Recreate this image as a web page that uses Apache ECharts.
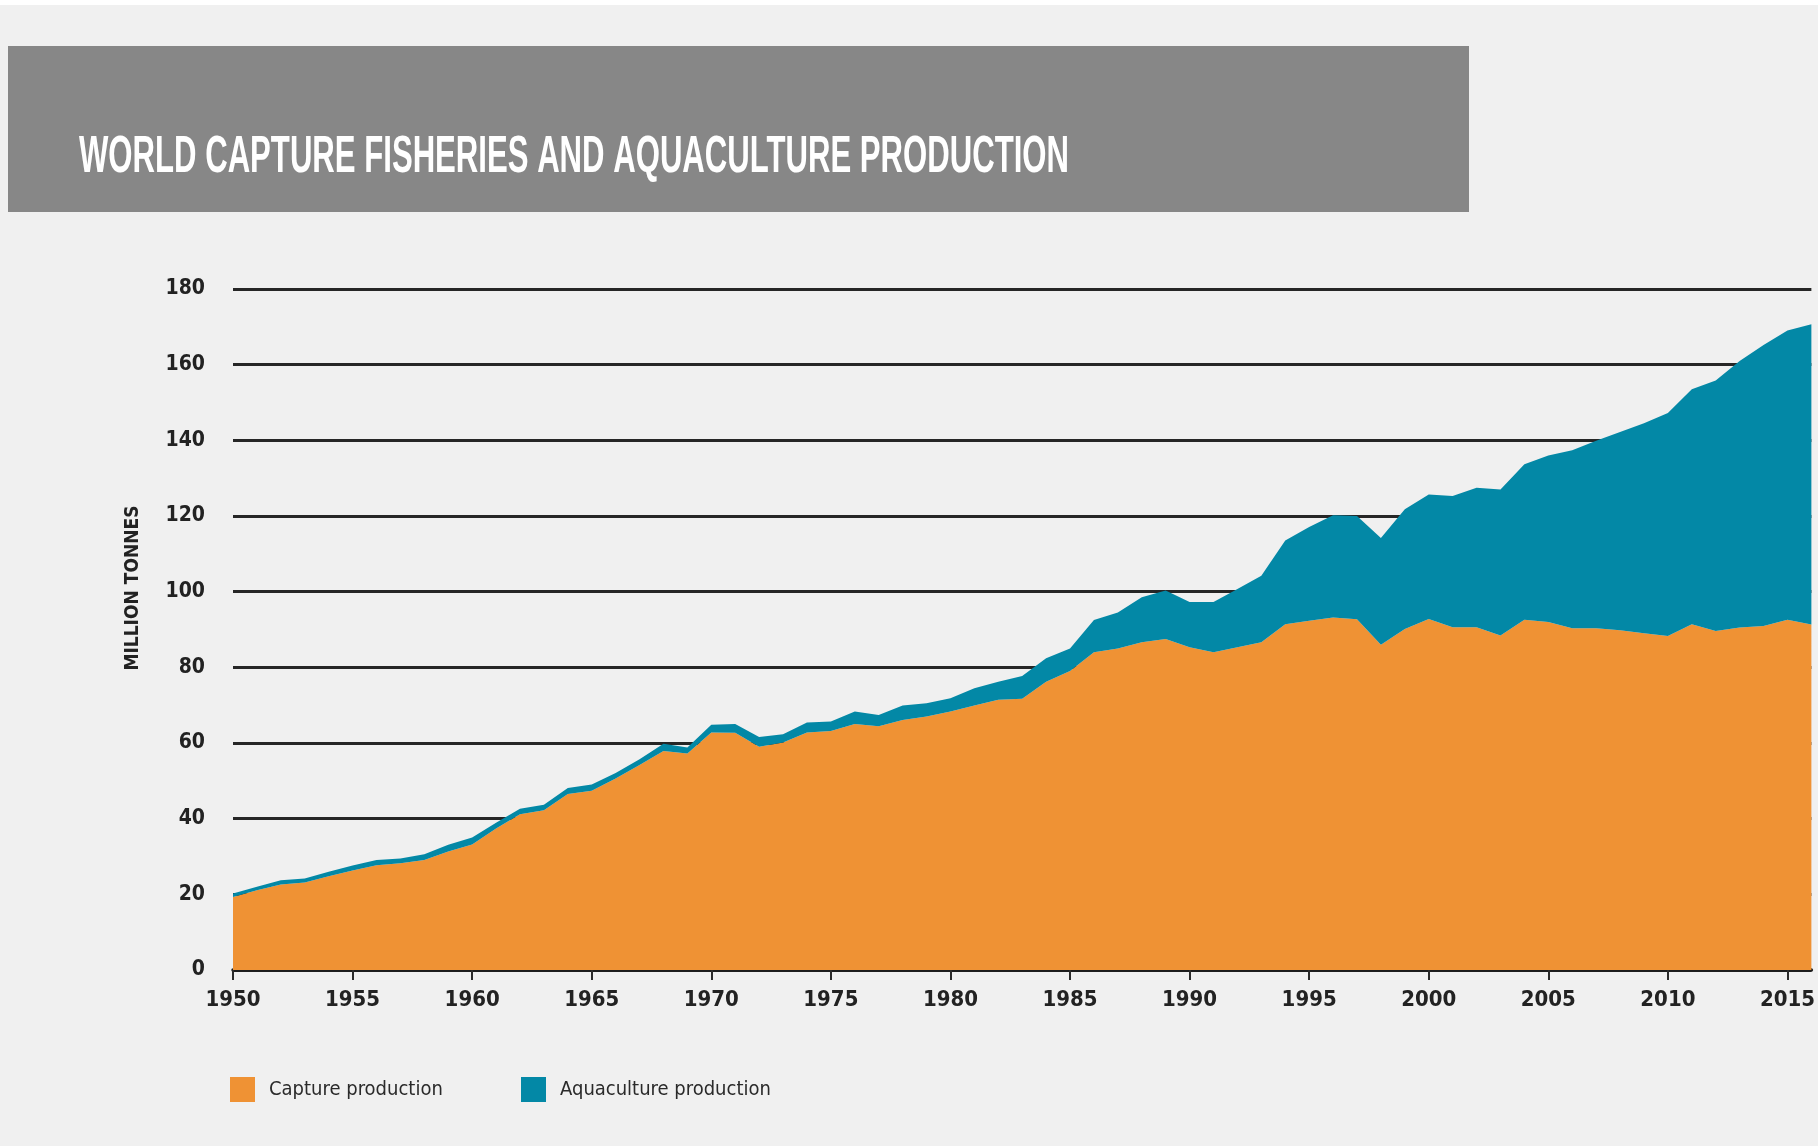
<!DOCTYPE html>
<html>
<head>
<meta charset="utf-8">
<script src="https://cdn.jsdelivr.net/npm/echarts@6/dist/echarts.min.js"></script>
<style>
  html, body { margin: 0; padding: 0; background: #f0f0f0; }
  #chart { width: 1818px; height: 1146px; }
</style>
</head>
<body>
<div id="chart"></div>
<script>
// World production, million tonnes
const years = [
  '1950','1951','1952','1953','1954','1955','1956','1957','1958','1959',
  '1960','1961','1962','1963','1964','1965','1966','1967','1968','1969',
  '1970','1971','1972','1973','1974','1975','1976','1977','1978','1979',
  '1980','1981','1982','1983','1984','1985','1986','1987','1988','1989',
  '1990','1991','1992','1993','1994','1995','1996','1997','1998','1999',
  '2000','2001','2002','2003','2004','2005','2006','2007','2008','2009',
  '2010','2011','2012','2013','2014','2015','2016'
];
const capture = [
  19.3, 21.1, 22.6, 23.1, 24.8, 26.3, 27.7, 28.2, 29.1, 31.3,
  33.2, 37.4, 41.2, 42.2, 46.5, 47.4, 50.6, 54.2, 57.9, 57.2,
  62.8, 62.7, 59.0, 60.1, 62.8, 63.2, 65.0, 64.4, 66.1, 67.0,
  68.3, 69.9, 71.4, 71.7, 76.2, 79.0, 84.0, 85.0, 86.6, 87.5,
  85.3, 84.0, 85.3, 86.6, 91.4, 92.3, 93.2, 92.7, 86.0, 90.1,
  92.8, 90.6, 90.6, 88.4, 92.6, 92.0, 90.3, 90.3, 89.8, 89.0,
  88.3, 91.4, 89.6, 90.5, 90.9, 92.6, 91.3
];
const aquaculture = [
  0.9, 0.9, 1.1, 1.1, 1.2, 1.3, 1.4, 1.3, 1.5, 1.8,
  1.8, 1.5, 1.4, 1.5, 1.6, 1.6, 1.5, 1.5, 1.9, 1.6,
  2.0, 2.3, 2.6, 2.2, 2.6, 2.5, 3.3, 3.0, 3.8, 3.5,
  3.5, 4.6, 4.8, 6.0, 6.2, 6.0, 8.5, 9.5, 11.9, 12.8,
  12.0, 13.3, 15.4, 17.6, 22.1, 24.8, 27.0, 27.3, 28.2, 31.7,
  32.9, 34.7, 36.9, 38.6, 41.1, 44.0, 47.1, 49.6, 52.4, 55.5,
  58.9, 62.1, 66.2, 70.5, 74.3, 76.4, 79.4
];
const yTicks = [0, 20, 40, 60, 80, 100, 120, 140, 160, 180];
const seriesNames = ['Capture production', 'Aquaculture production'];
const titleText = 'WORLD CAPTURE FISHERIES AND AQUACULTURE PRODUCTION';
const yAxisTitle = 'MILLION TONNES';

const ORANGE = '#ef9234';
const TEAL = '#0388a6';
const INK = '#222222';
const NARROW = "'Liberation Sans Narrow', 'DejaVu Sans Condensed', 'Liberation Sans', sans-serif";

// squeeze the banner heading into its fixed width
const titleFont = 'bold 52px "Liberation Sans", sans-serif';
const ctx = document.createElement('canvas').getContext('2d');
ctx.font = titleFont;
const titleScale = 990 / ctx.measureText(titleText).width;

const chart = echarts.init(document.getElementById('chart'), null, { renderer: 'canvas' });

const legendText = { fontFamily: NARROW, fontSize: 20, color: '#2a2a2a', padding: [0, 0, 0, 9] };

chart.setOption({
  backgroundColor: '#f0f0f0',
  animation: false,
  grid: { left: 233, right: 3, top: 289, bottom: 176, containLabel: false },
  xAxis: {
    type: 'category',
    data: years,
    boundaryGap: false,
    axisLine: { show: true, lineStyle: { color: '#1c1c1c', width: 3.5 } },
    axisTick: {
      show: true, length: 10, inside: false,
      interval: (i) => i % 5 === 0,
      lineStyle: { color: '#2a2a2a', width: 2 }
    },
    axisLabel: {
      interval: (i) => i % 5 === 0,
      margin: 19,
      color: INK,
      fontFamily: NARROW,
      fontWeight: 'bold',
      fontSize: 22
    },
    splitLine: { show: false }
  },
  yAxis: {
    type: 'value',
    min: yTicks[0],
    max: yTicks[yTicks.length - 1],
    interval: yTicks[1] - yTicks[0],
    axisLine: { show: false },
    axisTick: { show: false },
    axisLabel: {
      margin: 28,
      color: INK,
      fontFamily: NARROW,
      fontWeight: 'bold',
      fontSize: 21,
      padding: [0, 0, 6, 0]
    },
    splitLine: { show: true, lineStyle: { color: '#262626', width: 2.8 } }
  },
  legend: [
    {
      data: [seriesNames[0]], left: 225, top: 1072,
      icon: 'rect', itemWidth: 25, itemHeight: 25, textStyle: legendText
    },
    {
      data: [seriesNames[1]], left: 516, top: 1072,
      icon: 'rect', itemWidth: 25, itemHeight: 25, textStyle: legendText
    }
  ],
  graphic: [
    { type: 'rect', left: 0, top: 0, shape: { width: 1818, height: 5 }, style: { fill: '#ffffff' }, silent: true },
    { type: 'rect', x: 8, y: 46, shape: { width: 1461, height: 166 }, style: { fill: '#878787' }, silent: true },
    {
      type: 'text', x: 79, y: 184, scaleX: titleScale,
      style: { text: titleText, font: titleFont, fill: '#ffffff', textAlign: 'left', textVerticalAlign: 'bottom' },
      silent: true
    },
    {
      type: 'text', x: 133, y: 588, rotation: Math.PI / 2,
      style: {
        text: yAxisTitle, fill: INK, textAlign: 'center', textVerticalAlign: 'middle',
        font: 'bold 19px ' + NARROW
      },
      silent: true
    }
  ],
  series: [
    {
      name: seriesNames[0], type: 'line', stack: 'total', data: capture,
      showSymbol: false, symbol: 'none', smooth: false,
      lineStyle: { width: 0 }, itemStyle: { color: ORANGE },
      areaStyle: { color: ORANGE, opacity: 1 }
    },
    {
      name: seriesNames[1], type: 'line', stack: 'total', data: aquaculture,
      showSymbol: false, symbol: 'none', smooth: false,
      lineStyle: { width: 0 }, itemStyle: { color: TEAL },
      areaStyle: { color: TEAL, opacity: 1 }
    }
  ]
});
</script>
</body>
</html>
